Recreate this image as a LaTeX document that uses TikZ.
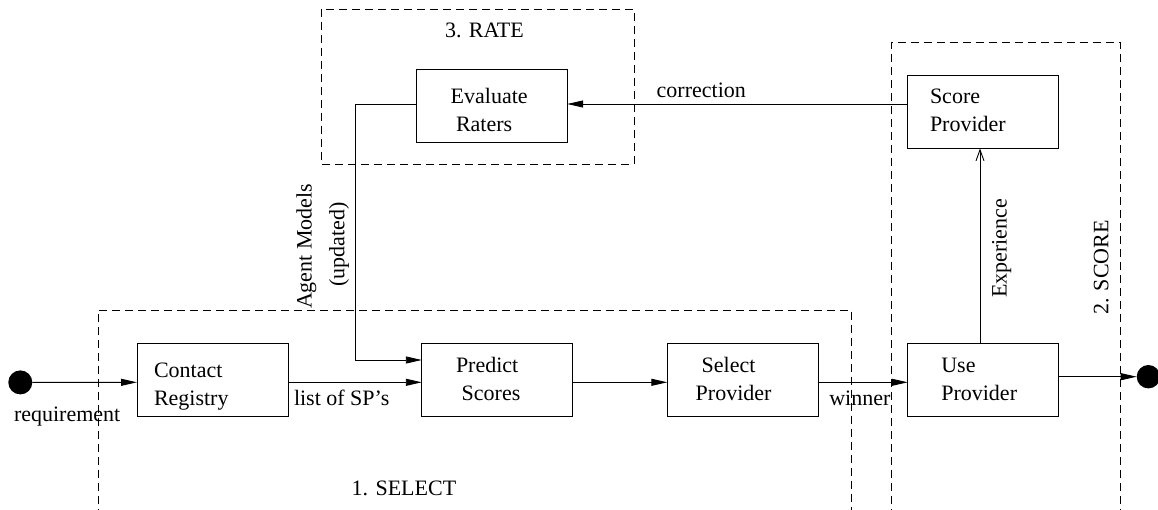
\documentclass[tikz,border=0pt]{standalone}
\usepackage{fontspec}
\setmainfont{Liberation Serif}
\usetikzlibrary{arrows.meta}
\begin{document}
\begin{tikzpicture}[x=1pt,y=-1pt,
  every node/.style={font=\fontsize{22}{28}\selectfont, inner sep=0pt, outer sep=0pt},
  box/.style={draw, line width=0.9pt, minimum width=151pt, minimum height=73pt},
  txt/.style={align=left, anchor=base west},
  lbl/.style={anchor=base west},
  zone/.style={draw, line width=0.9pt, dash pattern=on 8pt off 5pt},
  flow/.style={line width=0.9pt, -{Triangle[length=16pt,width=7pt]}},
  feed/.style={line width=0.9pt, -{Straight Barb[length=11pt,width=8pt]}},
  dot/.style={circle, fill, minimum size=24pt},
]
\useasboundingbox (0,0) rectangle (1158,510);

% phase areas (the lower ones run off the page)
\begin{scope}
  \clip (0,0) rectangle (1158,510);
  \draw[zone] (98.3,530) |- (851.7,310) -- (851.7,530);
  \draw[zone] (891,530) |- (1120,42.7) -- (1120,530);
  \node[dot, minimum size=23.4pt] (out) at (1148.4,376.7) {};
\end{scope}
\draw[zone] (321.7,9) rectangle (634,164.3);

% activities
\node[box] (contact)  at (212.5,380)   {};
\node[box] (predict)  at (497.3,380)   {};
\node[box] (select)   at (742.8,380)   {};
\node[box] (use)      at (983.2,379.7) {};
\node[box] (score)    at (983.2,112)   {};
\node[box] (evaluate) at (491.7,106.3) {};

% box captions, placed by the baseline of their last line
\node[txt] (contactT)  at (154,405)     {Contact\\Registry};
\node[txt] (predictT)  at (456,400)     {Predict\\\hspace*{5.7pt}Scores};
\node[txt] (selectT)   at (695.7,400)   {\hspace*{6pt}Select\\Provider};
\node[txt] (useT)      at (941.3,400)   {Use\\Provider};
\node[txt] (scoreT)    at (930,131.7)   {Score\\Provider};
\node[txt] (evaluateT) at (450.7,131.7) {Evaluate\\\hspace*{5.3pt}Raters};

% start point
\node[dot] (in) at (20.3,382.4) {};

% flows
\coordinate (lane) at (0,382.3);
\coordinate (back) at (0,104);
\coordinate (bend) at (355.3,360);
\draw[flow] (in) -- (contact.west |- lane);
\draw[flow] (contact.east |- lane) -- (predict.west |- lane);
\draw[flow] (predict.east |- lane) -- (select.west |- lane);
\draw[flow] (select.east |- lane) -- (use.west |- lane);
\draw[flow] (use.east |- out) -- (out.west);
\draw[flow] (score.west |- back) -- (evaluate.east |- back);
\draw[flow] (evaluate.west |- back) -| (bend) -- (predict.west |- bend);
\draw[feed] ([xshift=-3.2pt]use.north) -- ([xshift=-3.2pt]score.south);

% labels
\node[lbl] (req)  at (14,421.7)   {requirement};
\node[lbl] (sps)  at (294,405)    {list of SP’s};
\node[lbl] (win)  at (829.3,405)  {winner};
\node[lbl] (corr) at (656.7,97.3) {correction};
\node[lbl] (sel)  at (351.7,495)  {1. SELECT};
\node[lbl] (rate) at (445,37.3)   {3. RATE};
\node[lbl, rotate=90] (exp)    at (1006.7,298) {Experience};
\node[lbl, rotate=90] (scoreL) at (1108.3,315) {2. SCORE};
\node[anchor=base, rotate=90] (agent1) at (311.7,246.3) {Agent Models};
\node[anchor=base, rotate=90] (agent2) at (344.3,244.5) {(updated)};
\end{tikzpicture}
\end{document}
